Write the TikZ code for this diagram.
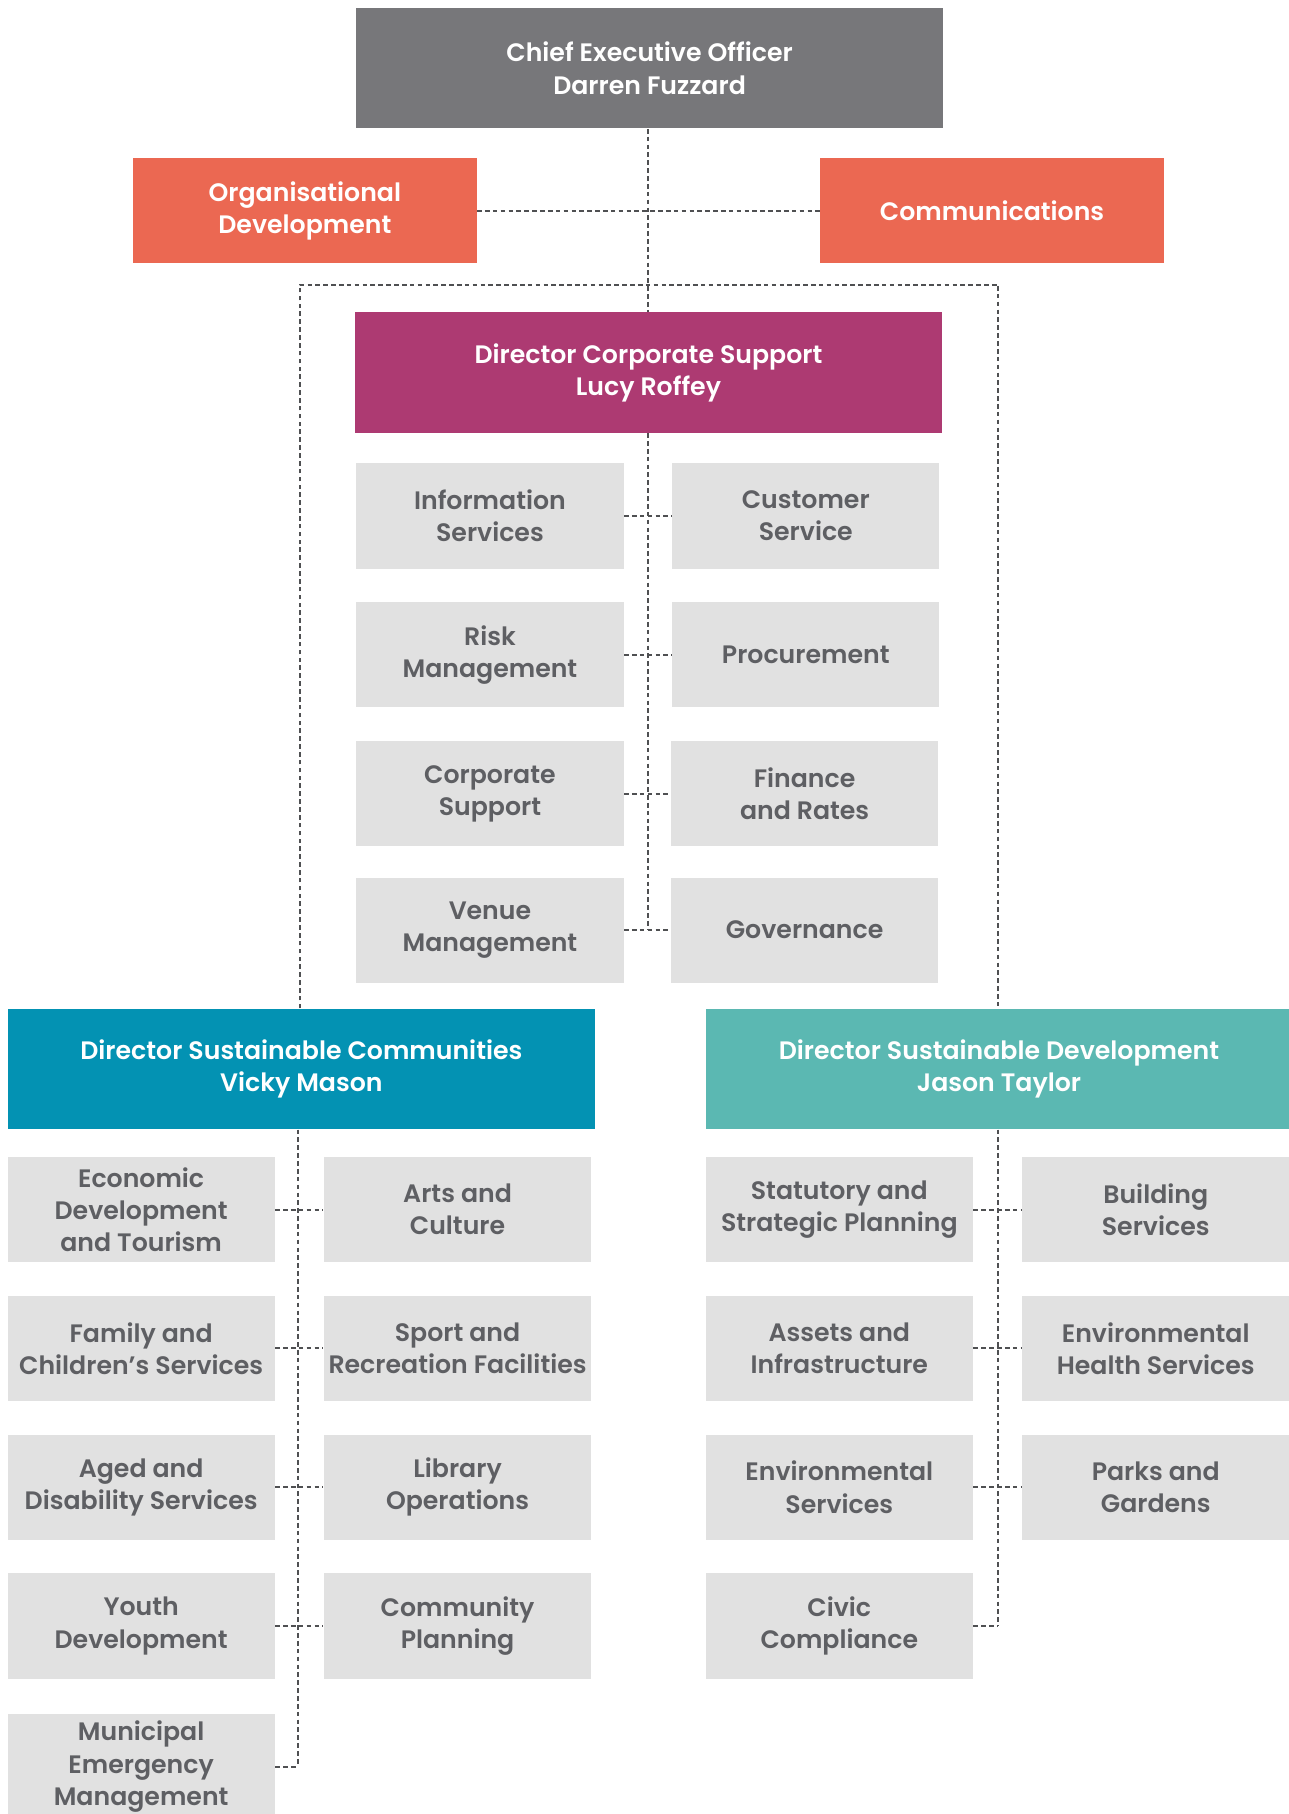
\documentclass[tikz,border=0pt]{standalone}
\usepackage{fontspec}
\setmainfont{Poppins SemiBold}
\usetikzlibrary{positioning}

\definecolor{ceogray}{HTML}{77777A}
\definecolor{coral}{HTML}{EB6852}
\definecolor{plum}{HTML}{AD3A72}
\definecolor{ocean}{HTML}{0392B3}
\definecolor{teal}{HTML}{5BB8B2}
\definecolor{tile}{HTML}{E1E1E1}
\definecolor{tiletext}{HTML}{5E5F63}
\definecolor{linkgray}{HTML}{4F5052}

\tikzset{
  base/.style={rectangle, inner sep=0pt, align=center,
    font=\fontsize{10.9}{13.9}\selectfont},
  head/.style={base, text=white, minimum width=253.5pt, minimum height=52pt},
  ceobox/.style={head, fill=ceogray},
  corpbox/.style={head, fill=plum},
  commbox/.style={head, fill=ocean},
  devbox/.style={head, fill=teal},
  unitbox/.style={base, text=white, fill=coral, minimum width=148.5pt, minimum height=45pt},
  tilebox/.style={base, fill=tile, text=tiletext, minimum width=115.5pt, minimum height=45.5pt},
  link/.style={draw=linkgray, line width=0.85pt, dash pattern=on 2pt off 1.4pt},
}

\begin{document}
\begin{tikzpicture}[x=0.5pt, y=-0.5pt]
\useasboundingbox (0,0) rectangle (1114,1568);
\clip (0,0) rectangle (1114,1568);

% executive level
\node[ceobox] (ceo) at (561.5,59) {Chief Executive Officer\\Darren Fuzzard};
\node[unitbox] (org) at (263.5,182) {Organisational\\Development};
\node[unitbox] (comm) at (857.5,182) {Communications};

% corporate support
\node[corpbox] (dcs) at (560.5,322) {Director Corporate Support\\Lucy Roffey};
\node[tilebox] (is)  at (423.5,446) {Information\\Services};
\node[tilebox] (cs)  at (696.5,446) {Customer\\Service};
\node[tilebox] (rm)  at (423.5,566) {Risk\\Management};
\node[tilebox] (pr)  at (696.5,566) {Procurement};
\node[tilebox] (csu) at (423.5,686) {Corporate\\Support};
\node[tilebox] (fr)  at (695.5,686) {Finance\\and Rates};
\node[tilebox] (vm)  at (423.5,804) {Venue\\Management};
\node[tilebox] (gov) at (695.5,804) {Governance};

% sustainable communities
\node[commbox] (dsc) at (260.5,924) {Director Sustainable Communities\\Vicky Mason};
\node[tilebox] (edt) at (122,1045.5) {Economic\\Development\\and Tourism};
\node[tilebox] (ac)  at (395.5,1045.5) {Arts and\\Culture};
\node[tilebox] (fcs) at (122,1165.5) {Family and\\Children’s Services};
\node[tilebox] (srf) at (395.5,1165.5) {Sport and\\Recreation Facilities};
\node[tilebox] (ads) at (122,1285.5) {Aged and\\Disability Services};
\node[tilebox] (lo)  at (395.5,1285.5) {Library\\Operations};
\node[tilebox] (yd)  at (122,1405.5) {Youth\\Development};
\node[tilebox] (cp)  at (395.5,1405.5) {Community\\Planning};
\node[tilebox] (mem) at (122,1527) {Municipal\\Emergency\\Management};

% sustainable development
\node[devbox] (dsd) at (863.5,924) {Director Sustainable Development\\Jason Taylor};
\node[tilebox] (ssp) at (725.5,1045.5) {Statutory and\\Strategic Planning};
\node[tilebox] (bs)  at (999,1045.5) {Building\\Services};
\node[tilebox] (ai)  at (725.5,1165.5) {Assets and\\Infrastructure};
\node[tilebox] (ehs) at (999,1165.5) {Environmental\\Health Services};
\node[tilebox] (es)  at (725.5,1285.5) {Environmental\\Services};
\node[tilebox] (pg)  at (999,1285.5) {Parks and\\Gardens};
\node[tilebox] (cc)  at (725.5,1405.5) {Civic\\Compliance};

% reporting lines
\coordinate (spine) at (560,0);
\coordinate (bar) at (0,246);
\draw[link] (spine |- ceo.south) -- (spine |- dcs.north);
\draw[link] (org.east) -- (comm.west);
\draw[link] (dsc.north -| 259,0) -- (259,0 |- bar) -- (863,0 |- bar) -- (dsd.north -| 863,0);

\draw[link] (spine |- dcs.south) -- (spine |- vm.east);
\foreach \a/\b in {is/cs, rm/pr, csu/fr, vm/gov}
  \draw[link] (\a.east) -- (\b.west);

\coordinate (cspine) at (258,0);
\draw[link] (cspine |- dsc.south) -- (cspine |- mem.east);
\foreach \a/\b in {edt/ac, fcs/srf, ads/lo, yd/cp}
  \draw[link] (\a.east) -- (\b.west);
\draw[link] (mem.east) -- (cspine |- mem.east);

\coordinate (dspine) at (863,0);
\draw[link] (dspine |- dsd.south) -- (dspine |- cc.east);
\foreach \a/\b in {ssp/bs, ai/ehs, es/pg}
  \draw[link] (\a.east) -- (\b.west);
\draw[link] (cc.east) -- (dspine |- cc.east);
\end{tikzpicture}
\end{document}
